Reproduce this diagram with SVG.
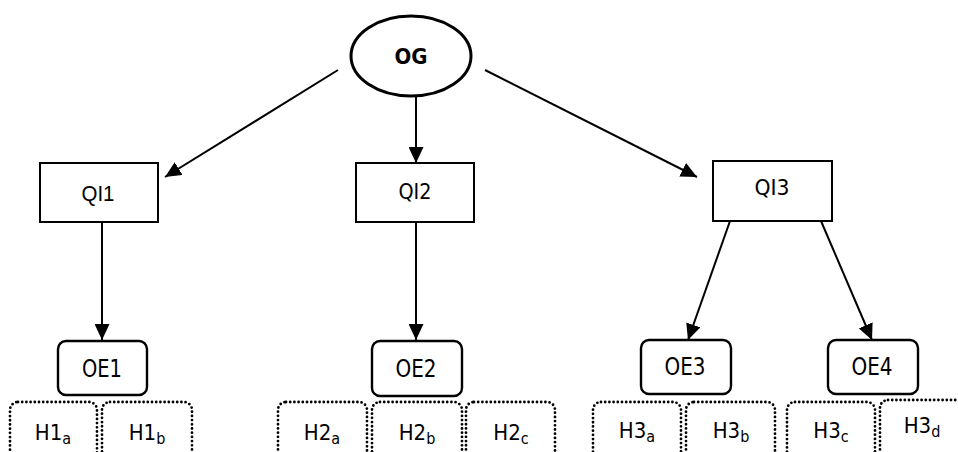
<svg xmlns="http://www.w3.org/2000/svg" width="958" height="452" viewBox="0 0 958 452">
  <style>
    .cond { font-family: "DejaVu Sans Condensed", "DejaVu Sans", sans-serif; font-stretch: condensed; font-size: 22px; fill: #000; text-anchor: middle; }
    .big { font-size: 24px; }
    .arial { font-family: "Liberation Sans", Arial, sans-serif; font-size: 22px; fill: #000; text-anchor: middle; }
    .bold { font-weight: bold; }
    .qi { fill: #fff; stroke: #000; stroke-width: 2; }
    .oe { fill: #fff; stroke: #000; stroke-width: 2.4; }
    .hyp { fill: none; stroke: #000; stroke-width: 2.8; stroke-dasharray: 0 4.2; stroke-linecap: round; }
    .edge { stroke: #000; stroke-width: 2; fill: none; marker-end: url(#arrow); }
    .sub { font-size: 16px; }
  </style>
  <defs>
    <marker id="arrow" markerUnits="userSpaceOnUse" markerWidth="17" markerHeight="15" refX="16" refY="7.5" orient="auto">
      <path d="M0,0 L16,7.5 L0,15 z" fill="#000"/>
    </marker>
  </defs>
  <rect width="958" height="452" fill="#fff"/>

  <!-- connectors -->
  <g id="connectors">
    <line class="edge" x1="338" y1="70" x2="165" y2="177"/>
    <line class="edge" x1="416" y1="97" x2="416" y2="163"/>
    <line class="edge" x1="485" y1="70" x2="697" y2="177"/>
    <line class="edge" x1="102" y1="222" x2="102" y2="340"/>
    <line class="edge" x1="416" y1="222" x2="416" y2="340"/>
    <line class="edge" x1="730" y1="221" x2="688" y2="340"/>
    <line class="edge" x1="821" y1="221" x2="872" y2="340"/>
  </g>

  <!-- general objective -->
  <g id="OG">
    <ellipse cx="411" cy="56" rx="60" ry="40" fill="#fff" stroke="#000" stroke-width="3"/>
    <text class="cond bold" x="411" y="64" textLength="33" lengthAdjust="spacingAndGlyphs">OG</text>
  </g>

  <!-- research questions -->
  <g id="QI1">
    <rect class="qi" x="40" y="163" width="118" height="59"/>
    <text class="arial" x="98" y="201" textLength="33" lengthAdjust="spacingAndGlyphs">QI1</text>
  </g>
  <g id="QI2">
    <rect class="qi" x="356" y="163" width="118" height="59"/>
    <text class="cond" x="415" y="199" textLength="33" lengthAdjust="spacingAndGlyphs">QI2</text>
  </g>
  <g id="QI3">
    <rect class="qi" x="713" y="161" width="119" height="60"/>
    <text class="cond" x="772" y="195" textLength="35" lengthAdjust="spacingAndGlyphs">QI3</text>
  </g>

  <!-- specific objectives -->
  <g id="OE1">
    <rect class="oe" x="58" y="341" width="89" height="54" rx="8"/>
    <text class="cond big" x="102" y="377" textLength="40" lengthAdjust="spacingAndGlyphs">OE1</text>
  </g>
  <g id="OE2">
    <rect class="oe" x="372" y="341" width="90" height="55" rx="8"/>
    <text class="cond big" x="416" y="377" textLength="41" lengthAdjust="spacingAndGlyphs">OE2</text>
  </g>
  <g id="OE3">
    <rect class="oe" x="641" y="340" width="90" height="54" rx="8"/>
    <text class="cond big" x="685" y="375" textLength="41" lengthAdjust="spacingAndGlyphs">OE3</text>
  </g>
  <g id="OE4">
    <rect class="oe" x="828" y="340" width="90" height="54" rx="8"/>
    <text class="cond big" x="872" y="375" textLength="41" lengthAdjust="spacingAndGlyphs">OE4</text>
  </g>

  <!-- hypotheses -->
  <g id="H1a">
    <rect class="hyp" x="10" y="402" width="87" height="70" rx="8"/>
    <text class="cond" x="53" y="440">H1<tspan class="sub" dy="4">a</tspan></text>
  </g>
  <g id="H1b">
    <rect class="hyp" x="102" y="402" width="90" height="70" rx="8"/>
    <text class="cond" x="147" y="440">H1<tspan class="sub" dy="4">b</tspan></text>
  </g>
  <g id="H2a">
    <rect class="hyp" x="278" y="402" width="89" height="70" rx="8"/>
    <text class="cond" x="322" y="440">H2<tspan class="sub" dy="4">a</tspan></text>
  </g>
  <g id="H2b">
    <rect class="hyp" x="372" y="402" width="90" height="70" rx="8"/>
    <text class="cond" x="417" y="440">H2<tspan class="sub" dy="4">b</tspan></text>
  </g>
  <g id="H2c">
    <rect class="hyp" x="466" y="402" width="89" height="70" rx="8"/>
    <text class="cond" x="511" y="440">H2<tspan class="sub" dy="4">c</tspan></text>
  </g>
  <g id="H3a">
    <rect class="hyp" x="593" y="402" width="88" height="70" rx="8"/>
    <text class="cond" x="637" y="438">H3<tspan class="sub" dy="4">a</tspan></text>
  </g>
  <g id="H3b">
    <rect class="hyp" x="686" y="402" width="89" height="70" rx="8"/>
    <text class="cond" x="731" y="438">H3<tspan class="sub" dy="4">b</tspan></text>
  </g>
  <g id="H3c">
    <rect class="hyp" x="787" y="402" width="88" height="70" rx="8"/>
    <text class="cond" x="831" y="438">H3<tspan class="sub" dy="4">c</tspan></text>
  </g>
  <g id="H3d">
    <rect class="hyp" x="880" y="400" width="90" height="70" rx="8"/>
    <text class="cond" x="922" y="433">H3<tspan class="sub" dy="4">d</tspan></text>
  </g>
</svg>
